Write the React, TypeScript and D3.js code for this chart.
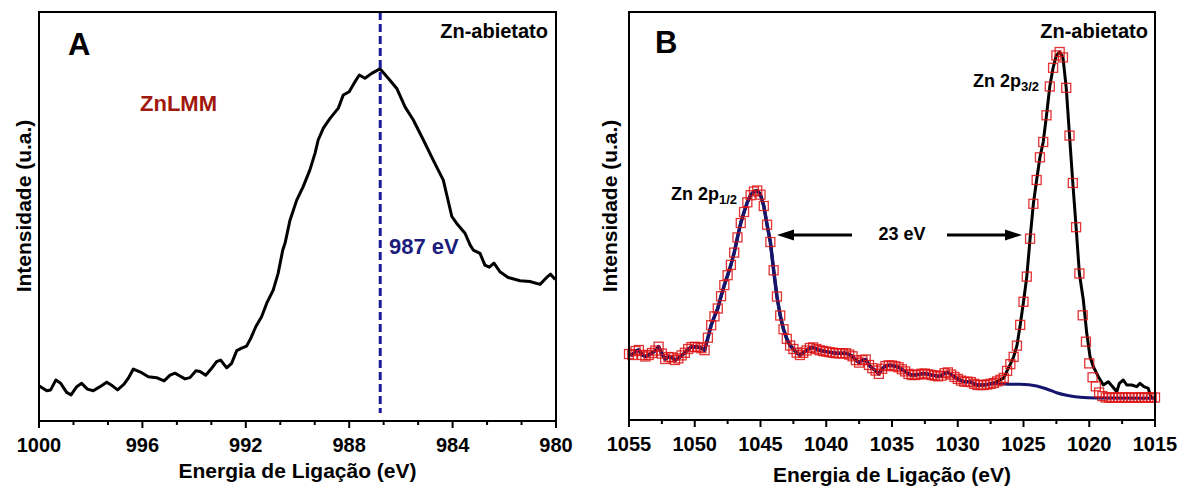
import React from "react";
import * as d3 from "d3";

const W = 1189;
const H = 487;
const FONT = "'Liberation Sans', Arial, Helvetica, sans-serif";

// ---------- Panel A : Zn LMM Auger ----------
const energyA = [
  1000.0, 999.7, 999.55, 999.35, 999.16, 998.93, 998.76, 998.54, 998.35, 998.13,
  997.9, 997.64, 997.38, 997.16, 996.96, 996.71, 996.55, 996.35, 996.03, 995.77,
  995.45, 995.16, 994.93, 994.74, 994.55, 994.35, 994.16, 993.93, 993.77, 993.55,
  993.32, 993.13, 992.97, 992.74, 992.55, 992.35, 992.16, 991.97, 991.81, 991.61,
  991.39, 991.19, 990.94, 990.75, 990.57, 990.48, 990.29, 990.03, 989.78, 989.52,
  989.32, 989.2, 989.0, 988.74, 988.42, 988.23, 988.0, 987.81, 987.61, 987.39,
  987.13, 986.81, 986.49, 986.16, 985.84, 985.52, 985.13, 984.75, 984.36, 984.03,
  983.84, 983.52, 983.32, 983.2, 982.94, 982.75, 982.58, 982.4, 982.17, 981.85,
  981.39, 981.01, 980.62, 980.36, 980.21, 980.03,
];
const intensityA = [
  8.6, 7.4, 7.6, 10.0, 9.2, 7.0, 6.4, 8.4, 9.2, 7.8,
  7.4, 8.4, 9.5, 8.6, 7.6, 9.0, 10.4, 12.7, 11.8, 10.8,
  10.6, 9.8, 11.2, 11.7, 11.0, 10.3, 10.6, 12.3, 12.1, 11.2,
  12.9, 14.5, 14.9, 13.0, 14.1, 17.2, 17.8, 18.3, 20.2, 23.1,
  25.5, 28.8, 32.0, 36.1, 41.8, 43.5, 49.1, 54.0, 57.3, 61.4,
  65.5, 68.7, 71.6, 74.0, 76.5, 79.7, 80.5, 82.6, 84.6, 83.8,
  85.0, 86.1, 83.8, 81.3, 76.8, 73.6, 68.7, 63.8, 58.9, 50.0,
  48.3, 45.9, 43.0, 41.8, 41.0, 38.1, 37.6, 38.6, 36.5, 35.1,
  34.3, 34.1, 33.4, 35.1, 35.9, 34.6,
];
const ticksA = [1000, 996, 992, 988, 984, 980];
const peakA = 986.8;

// ---------- Panel B : Zn 2p ----------
const energyStartB = 1055;
const energyStepB = 0.25;
const intensityB = [
  66, 65, 69, 70, 65, 63.5, 65, 67, 69.4, 73.3,
  66.4, 61, 63, 62.6, 60, 61.6, 64.6, 67.2, 71, 72.9,
  73.2, 72.9, 71.8, 69.8, 82.3, 94.8, 103.6, 111.5, 123.8, 134.9,
  144.8, 155.1, 167.4, 182.6, 197, 208, 217.7, 224.8, 228.5, 229.5,
  225.3, 214, 195.3, 178, 149.7, 123.5, 104.5, 90.7, 81.1, 74.5,
  71, 67.3, 65, 67.2, 69.5, 72, 72.6, 71, 69.7, 69,
  68.4, 67.8, 67.3, 66.8, 66.7, 66.7, 66.7, 65.4, 63.7, 59.9,
  57.4, 59.8, 60.5, 55, 51.8, 49.4, 46.1, 51.2, 53.9, 54.7,
  54.5, 53.7, 52.7, 50.7, 48.6, 46.1, 45, 45, 45.4, 46.3,
  46.4, 45.7, 45, 44.4, 43.7, 44.3, 46.8, 47.6, 45.4, 43.1,
  41.1, 39.4, 38.3, 38.3, 37.9, 36.2, 35, 35, 35, 35.5,
  36.2, 37, 38.6, 40.2, 42.1, 49.1, 55.8, 63.1, 74.3, 95.1,
  118.2, 143.4, 181.3, 216.2, 240, 262.7, 278, 304.7, 333.5, 352.2,
  364.6, 368, 362.6, 332.2, 284.4, 237, 192.8, 146.5, 104.7, 78.3,
  56.6, 42.7, 33.7, 27.5, 23.9, 22.5, 22.4, 22.6, 22.3, 22.5,
  22.4, 22.6, 22.5, 22.3, 22.5, 22.4, 22.6, 22.4, 22.5, 22.3, 22.5,
];
const rawTailB: [number, number][] = [
  [1020.45, 120], [1020.19, 86.7], [1019.94, 63.3], [1019.69, 53.3], [1019.31, 43.3],
  [1018.93, 35], [1018.55, 38.3], [1018.22, 33.3], [1017.91, 28.3], [1017.71, 36.7],
  [1017.41, 40], [1017.15, 35], [1016.77, 35], [1016.39, 33.3], [1016.14, 36.7],
  [1015.84, 33.3], [1015.51, 31.7], [1015.33, 23.3], [1015.13, 21.7],
];
const backgroundB: [number, number][] = [
  [1026.79, 36], [1025.27, 35.7], [1024.0, 34], [1023.24, 31], [1022.48, 27.3],
  [1021.72, 24.7], [1020.7, 22.7], [1019.43, 22], [1015.0, 21.7],
];
const ticksB = [1055, 1050, 1045, 1040, 1035, 1030, 1025, 1020, 1015];

const boxA = { left: 39, right: 556, top: 12, bottom: 421 };
const boxB = { left: 629, right: 1155, top: 12, bottom: 420 };

type Box = typeof boxA;

function Frame({ box, x, ticks, minorPer }: { box: Box; x: d3.ScaleLinear<number, number>; ticks: number[]; minorPer: number }) {
  const minors: number[] = [];
  for (let i = 0; i < ticks.length - 1; i++) {
    for (let k = 1; k <= minorPer; k++) {
      minors.push(ticks[i] + ((ticks[i + 1] - ticks[i]) * k) / (minorPer + 1));
    }
  }
  return (
    <g>
      <rect x={box.left} y={box.top} width={box.right - box.left} height={box.bottom - box.top} fill="none" stroke="#000" strokeWidth={2} />
      {ticks.map((t) => (
        <g key={"M" + t}>
          <line x1={x(t)} x2={x(t)} y1={box.bottom} y2={box.bottom + 7} stroke="#000" strokeWidth={2} />
          <text x={x(t)} y={box.bottom + 31} textAnchor="middle" fontFamily={FONT} fontWeight="bold" fontSize={20} fill="#000">
            {t}
          </text>
        </g>
      ))}
      {minors.map((t, i) => (
        <line key={"m" + i} x1={x(t)} x2={x(t)} y1={box.bottom} y2={box.bottom + 4} stroke="#000" strokeWidth={2} />
      ))}
    </g>
  );
}

export default function App() {
  const xA = d3.scaleLinear().domain([1000, 980]).range([boxA.left, boxA.right]);
  const yA = d3.scaleLinear().domain([0, 100]).range([boxA.bottom, boxA.top]);
  const xB = d3.scaleLinear().domain([1055, 1015]).range([boxB.left, boxB.right]);
  const yB = d3.scaleLinear().domain([0, 408]).range([boxB.bottom, boxB.top]);

  const ptsA: [number, number][] = energyA.map((e, i) => [e, intensityA[i]]);
  const lineA = d3.line<[number, number]>().x((d) => xA(d[0])).y((d) => yA(d[1]));

  const ptsB: [number, number][] = intensityB.map((v, i) => [energyStartB - i * energyStepB, v]);
  const lineB = d3.line<[number, number]>().x((d) => xB(d[0])).y((d) => yB(d[1]));
  const lineBsmooth = d3.line<[number, number]>().x((d) => xB(d[0])).y((d) => yB(d[1])).curve(d3.curveMonotoneX);

  const blackPts = [...ptsB.filter((d) => d[0] > 1020.5), ...rawTailB];
  const navyData = ptsB.filter((d) => d[0] >= 1027.25);
  const navyBg: [number, number][] = [navyData[navyData.length - 1], ...backgroundB];

  const sq = 9;

  return (
    <svg width={W} height={H} style={{ position: "absolute", left: 0, top: 0, background: "#fff" }}>
      {/* Panel A */}
      <path d={lineA(ptsA) || ""} fill="none" stroke="#000" strokeWidth={3} strokeLinejoin="round" />
      <line x1={xA(peakA)} x2={xA(peakA)} y1={boxA.top} y2={413} stroke="#1c1c9a" strokeWidth={3} strokeDasharray="8 4" />
      <Frame box={boxA} x={xA} ticks={ticksA} minorPer={2} />
      <text x={68} y={55} fontFamily={FONT} fontWeight="bold" fontSize={31}>A</text>
      <text x={140} y={111} fontFamily={FONT} fontWeight="bold" fontSize={22} fill="#a0180e">ZnLMM</text>
      <text x={548} y={38} textAnchor="end" fontFamily={FONT} fontWeight="bold" fontSize={20}>Zn-abietato</text>
      <text x={389} y={254} fontFamily={FONT} fontWeight="bold" fontSize={22} fill="#1c1c7c">987 eV</text>
      <text x={(boxA.left + boxA.right) / 2} y={478} textAnchor="middle" fontFamily={FONT} fontWeight="bold" fontSize={21}>
        Energia de Ligação (eV)
      </text>
      <text transform={`translate(31,206) rotate(-90)`} textAnchor="middle" fontFamily={FONT} fontWeight="bold" fontSize={21}>
        Intensidade (u.a.)
      </text>

      {/* Panel B */}
      <path d={lineB(blackPts) || ""} fill="none" stroke="#000" strokeWidth={3} strokeLinejoin="round" />
      <path d={lineB(navyData) || ""} fill="none" stroke="#15156e" strokeWidth={3.5} strokeLinejoin="round" />
      <path d={lineBsmooth(navyBg) || ""} fill="none" stroke="#15156e" strokeWidth={3} />
      {ptsB.map((d, i) => (
        <rect
          key={i}
          x={xB(d[0]) - sq / 2}
          y={yB(d[1]) - sq / 2}
          width={sq}
          height={sq}
          fill="none"
          stroke="#dd1010"
          strokeOpacity={0.85}
          strokeWidth={1.3}
        />
      ))}
      <Frame box={boxB} x={xB} ticks={ticksB} minorPer={1} />
      <text x={655} y={53} fontFamily={FONT} fontWeight="bold" fontSize={31}>B</text>
      <text x={1148} y={38} textAnchor="end" fontFamily={FONT} fontWeight="bold" fontSize={20}>Zn-abietato</text>
      <text x={671} y={200} fontFamily={FONT} fontWeight="bold" fontSize={18}>
        Zn 2p<tspan fontSize={13} dy={4}>1/2</tspan>
      </text>
      <text x={973} y={87} fontFamily={FONT} fontWeight="bold" fontSize={18}>
        Zn 2p<tspan fontSize={13} dy={4}>3/2</tspan>
      </text>
      <text x={902} y={240} textAnchor="middle" fontFamily={FONT} fontWeight="bold" fontSize={18}>23 eV</text>
      <line x1={852} x2={790} y1={235} y2={235} stroke="#000" strokeWidth={3} />
      <polygon points="777,235 794,229.5 794,240.5" fill="#000" />
      <line x1={947} x2={1008} y1={235} y2={235} stroke="#000" strokeWidth={3} />
      <polygon points="1022,235 1005,229.5 1005,240.5" fill="#000" />
      <text x={(boxB.left + boxB.right) / 2} y={482} textAnchor="middle" fontFamily={FONT} fontWeight="bold" fontSize={21}>
        Energia de Ligação (eV)
      </text>
      <text transform={`translate(617,206) rotate(-90)`} textAnchor="middle" fontFamily={FONT} fontWeight="bold" fontSize={21}>
        Intensidade (u.a.)
      </text>
    </svg>
  );
}
